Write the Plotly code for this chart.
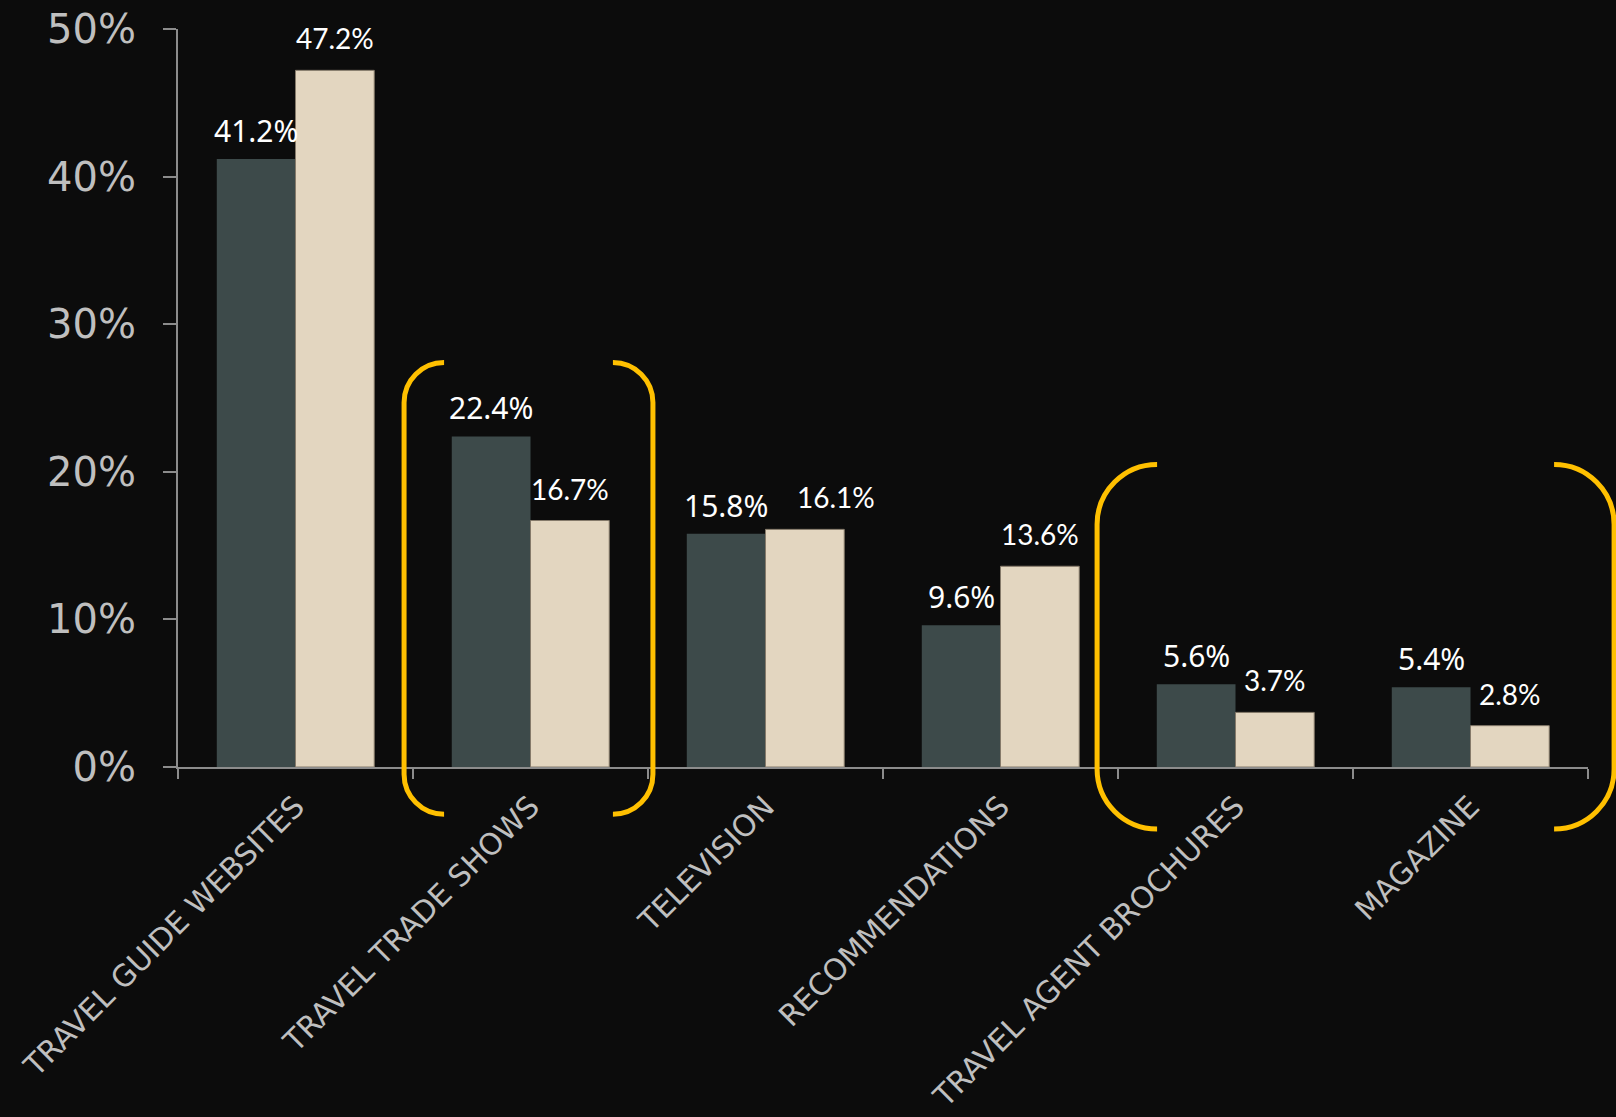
import plotly.graph_objects as go

categories = ["TRAVEL GUIDE WEBSITES", "TRAVEL TRADE SHOWS", "TELEVISION",
              "RECOMMENDATIONS", "TRAVEL AGENT BROCHURES", "MAGAZINE"]
series_a = [41.2, 22.4, 15.8, 9.6, 5.6, 5.4]
series_b = [47.2, 16.7, 16.1, 13.6, 3.7, 2.8]
y_ticks = [0, 10, 20, 30, 40, 50]
y_tick_labels = ["0%", "10%", "20%", "30%", "40%", "50%"]

# manual horizontal nudges (px) of series-B value labels, as in the original slide
label_b_nudge = [0, 0, 31, 0, 0, 0]

# bracket extents in axis units: (x_left, x_right) in category index units, (y_top, y_bottom) in %
brackets = [
    {"x0": 0.462, "x1": 1.521, "ytop": 27.4, "ybot": -3.2, "r": 40},
    {"x0": 3.411, "x1": 5.611, "ytop": 20.5, "ybot": -4.2, "r": 60},
]

W, H = 1616, 1117
ML, MR, MT, MB = 178, 28, 29, 350
PW = W - ML - MR
PH = H - MT - MB
Y_MAX = 50
N = len(categories)

BG = "#0C0C0C"
DARK = "#3D4A4A"
BEIGE = "#E3D6C0"
AXIS = "#8C8C8C"
TICKTXT = "#BFBFBF"
YELLOW = "#FFC000"

fig = go.Figure()
fig.add_trace(go.Bar(x=categories, y=series_a, name="A", marker=dict(color=DARK, line=dict(width=0)),
                     hoverinfo="skip"))
fig.add_trace(go.Bar(x=categories, y=series_b, name="B",
                     marker=dict(color=BEIGE, line=dict(width=1, color="#857a6a")), hoverinfo="skip"))

bar_half = PW / N * (1 - 0.33) / 4
for c, va, vb, nb in zip(categories, series_a, series_b, label_b_nudge):
    fig.add_annotation(x=c, y=va, text=f"{va:.1f}%", showarrow=False, xanchor="center", yanchor="bottom",
                       xshift=-bar_half, yshift=6, font=dict(family="Noto Sans", size=30, color="#FFFFFF"))
    fig.add_annotation(x=c, y=vb, text=f"{vb:.1f}%", showarrow=False, xanchor="center", yanchor="bottom",
                       xshift=bar_half + nb, yshift=13, font=dict(family="Lato", size=28, color="#FFFFFF"))


def px_x(u):
    return ML + (u + 0.5) / N * PW


def px_y(v):
    return MT + (Y_MAX - v) / Y_MAX * PH


def to_paper(px, py):
    return (px - ML) / PW, (MT + PH - py) / PH


def bracket_path(x_px, top, bot, r, direction):
    # direction = +1 for '(' (arms go right), -1 for ')' (arms go left)
    k = 0.5523
    d = direction
    p = lambda a, b: "%.5f,%.5f" % to_paper(a, b)
    s = "M " + p(x_px + d * r, top)
    s += " C " + p(x_px + d * r * (1 - k), top) + " " + p(x_px, top + r * (1 - k)) + " " + p(x_px, top + r)
    s += " L " + p(x_px, bot - r)
    s += " C " + p(x_px, bot - r * (1 - k)) + " " + p(x_px + d * r * (1 - k), bot) + " " + p(x_px + d * r, bot)
    return s


for b in brackets:
    top = px_y(b["ytop"])
    bot = px_y(b["ybot"])
    for xu, d in ((b["x0"], 1), (b["x1"], -1)):
        fig.add_shape(type="path", xref="paper", yref="paper", path=bracket_path(px_x(xu), top, bot, b["r"], d),
                      line=dict(color=YELLOW, width=5), layer="above")

fig.update_layout(
    width=W, height=H,
    margin=dict(l=ML, r=MR, t=MT, b=MB, pad=0),
    paper_bgcolor=BG, plot_bgcolor=BG,
    barmode="group", bargap=0.33, bargroupgap=0,
    showlegend=False,
    xaxis=dict(type="category", range=[-0.5, N - 0.5], showline=True, linecolor=AXIS, linewidth=2,
               ticks="outside", tickson="boundaries", ticklen=10, tickwidth=2, tickcolor=AXIS,
               tickangle=-45, tickfont=dict(family="DejaVu Sans", size=30, color=TICKTXT),
               ticklabelstandoff=8,
               showgrid=False, zeroline=False, automargin=False),
    yaxis=dict(range=[0, Y_MAX], tickvals=y_ticks, ticktext=y_tick_labels, showline=True, linecolor=AXIS,
               linewidth=2, ticks="outside", ticklen=13, tickwidth=2, tickcolor=AXIS,
               tickfont=dict(family="DejaVu Sans", size=40, color=TICKTXT), ticklabelstandoff=19,
               showgrid=False, zeroline=False, automargin=False),
)

fig.write_html("out.html", config={"displayModeBar": False})
